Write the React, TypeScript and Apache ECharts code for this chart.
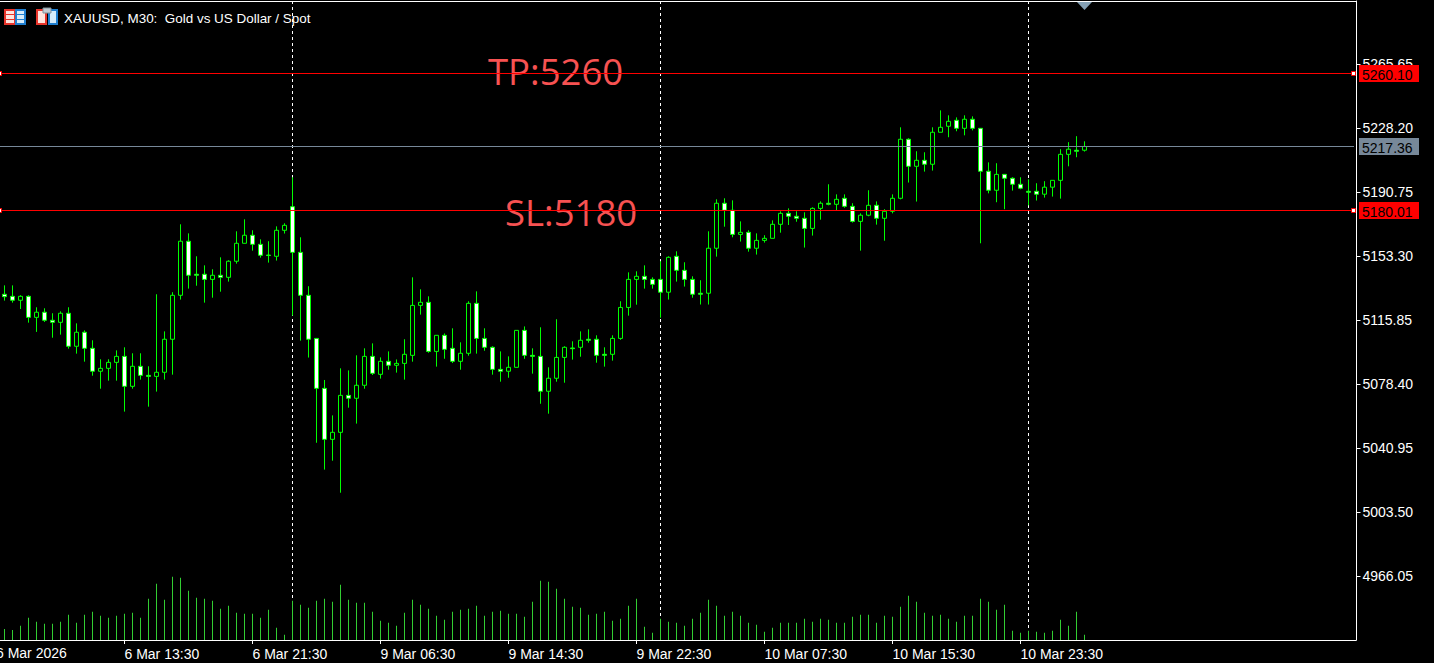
import React, { useEffect, useRef } from "react";
import * as echarts from "echarts";

const title = "XAUUSD, M30:  Gold vs US Dollar / Spot";
const priceTicks = [4966.05, 5003.5, 5040.95, 5078.4, 5115.85, 5153.3, 5190.75, 5228.2, 5265.65];
const dateLabels: Record<number, string> = {
  15: "6 Mar 13:30", 31: "6 Mar 21:30", 47: "9 Mar 06:30", 63: "9 Mar 14:30",
  79: "9 Mar 22:30", 95: "10 Mar 07:30", 111: "10 Mar 15:30", 127: "10 Mar 23:30",
};
const firstDateLabel = "6 Mar 2026";
const separators = [36, 82, 128];
const levelPrices = [5260.1, 5217.36, 5180.01];
const levelTags = ["5260.10", "5217.36", "5180.01"];
const levelColors = ["#ff0000", "#778899", "#ff0000"];
const levelHandles = [true, false, true];

const opens = [
  5131.0, 5129.8, 5127.5, 5129.8, 5117.5, 5120.5, 5115.8, 5114.6, 5119.9, 5100.6,
  5108.8, 5099.4, 5086.0, 5087.7, 5091.2, 5094.7, 5077.2, 5088.9, 5083.6, 5083.0,
  5085.4, 5104.7, 5130.4, 5162.0, 5142.7, 5142.7, 5139.7, 5142.1, 5140.9, 5150.3,
  5160.8, 5165.5, 5160.2, 5153.9, 5153.2, 5168.4, 5182.2, 5155.5, 5130.4, 5105.2,
  5076.0, 5046.2, 5050.3, 5071.9, 5070.2, 5077.8, 5094.7, 5084.2, 5091.8, 5089.5,
  5090.6, 5095.3, 5124.5, 5126.3, 5097.6, 5107.0, 5099.4, 5091.8, 5096.5, 5125.7,
  5105.2, 5100.0, 5087.1, 5086.0, 5088.3, 5109.9, 5095.3, 5094.7, 5074.3, 5081.9,
  5094.1, 5099.6, 5100.0, 5104.7, 5104.7, 5095.9, 5095.9, 5105.2, 5123.3, 5139.7,
  5141.5, 5139.7, 5139.7, 5132.2, 5153.2, 5145.0, 5139.7, 5131.6, 5131.6, 5157.9,
  5184.2, 5180.1, 5166.0, 5167.2, 5157.9, 5162.5, 5163.7, 5171.9, 5178.3, 5176.6,
  5175.4, 5169.5, 5181.2, 5184.2, 5183.6, 5187.1, 5182.4, 5173.6, 5177.2, 5183.0,
  5175.4, 5179.5, 5187.1, 5221.6, 5205.8, 5209.3, 5207.0, 5225.7, 5229.2, 5232.7,
  5228.0, 5233.3, 5228.0, 5202.9, 5191.8, 5201.1, 5198.8, 5195.3, 5191.2, 5191.2,
  5189.5, 5193.6, 5197.6, 5212.8, 5215.2, 5215.2,
];
const closes = [
  5129.6, 5127.5, 5129.8, 5117.5, 5120.5, 5115.8, 5114.6, 5119.9, 5100.6, 5108.8,
  5099.4, 5086.0, 5087.7, 5091.2, 5094.7, 5077.2, 5088.9, 5083.6, 5083.0, 5085.4,
  5104.7, 5130.4, 5162.0, 5142.1, 5142.1, 5139.7, 5142.1, 5140.9, 5150.3, 5160.8,
  5165.5, 5160.2, 5153.8, 5153.7, 5168.4, 5171.3, 5155.5, 5130.4, 5104.7, 5076.0,
  5046.2, 5050.3, 5071.9, 5070.2, 5077.8, 5094.7, 5084.8, 5091.8, 5089.5, 5090.6,
  5095.9, 5124.5, 5126.3, 5097.6, 5107.0, 5098.8, 5091.8, 5096.5, 5125.7, 5105.2,
  5100.0, 5087.1, 5086.0, 5088.3, 5109.9, 5095.3, 5094.7, 5074.3, 5081.9, 5094.1,
  5100.0, 5099.2, 5104.1, 5104.1, 5095.3, 5095.3, 5105.2, 5123.3, 5139.7, 5141.5,
  5139.7, 5136.8, 5132.2, 5152.6, 5145.0, 5139.7, 5131.0, 5131.0, 5157.9, 5184.2,
  5180.1, 5166.0, 5167.2, 5157.9, 5162.5, 5163.7, 5171.9, 5178.3, 5176.6, 5175.4,
  5169.5, 5181.2, 5184.2, 5183.6, 5186.5, 5182.4, 5173.6, 5177.2, 5183.0, 5175.4,
  5179.5, 5187.1, 5221.6, 5205.8, 5209.3, 5207.0, 5225.7, 5228.6, 5232.1, 5228.0,
  5233.3, 5228.0, 5202.9, 5191.8, 5201.1, 5198.8, 5195.3, 5193.0, 5190.6, 5189.5,
  5193.6, 5197.6, 5212.8, 5215.8, 5214.6, 5217.4,
];
const lows = [
  5127.3, 5126.1, 5122.4, 5114.4, 5109.0, 5114.8, 5105.6, 5107.4, 5099.2, 5096.3,
  5091.6, 5083.4, 5075.8, 5080.5, 5080.5, 5062.4, 5075.8, 5081.1, 5065.3, 5074.1,
  5081.1, 5084.0, 5127.9, 5134.3, 5136.0, 5126.1, 5129.0, 5132.5, 5138.4, 5148.9,
  5160.8, 5156.5, 5152.4, 5149.5, 5150.7, 5166.5, 5118.5, 5103.9, 5094.0, 5044.2,
  5028.5, 5033.7, 5015.0, 5064.7, 5055.4, 5075.8, 5083.8, 5081.7, 5086.9, 5085.2,
  5081.1, 5091.6, 5119.1, 5096.8, 5088.7, 5093.3, 5090.8, 5086.9, 5095.1, 5096.3,
  5098.0, 5084.0, 5079.9, 5082.2, 5088.3, 5093.3, 5084.6, 5067.0, 5061.2, 5079.9,
  5079.3, 5092.8, 5094.5, 5102.7, 5091.0, 5088.7, 5092.2, 5104.4, 5118.5, 5124.9,
  5134.3, 5134.3, 5117.3, 5127.9, 5138.4, 5135.5, 5129.0, 5125.0, 5125.0, 5153.0,
  5170.5, 5164.3, 5161.8, 5155.9, 5154.2, 5161.2, 5163.7, 5167.0, 5171.5, 5173.4,
  5158.3, 5165.3, 5174.6, 5183.0, 5180.1, 5181.6, 5172.9, 5156.5, 5176.6, 5171.7,
  5162.3, 5178.3, 5186.5, 5196.3, 5185.2, 5202.7, 5203.3, 5225.7, 5222.8, 5226.3,
  5223.9, 5226.8, 5160.8, 5190.0, 5184.8, 5180.7, 5191.6, 5192.4, 5183.0, 5185.8,
  5187.5, 5188.1, 5186.9, 5205.8, 5211.1, 5214.4,
];
const highs = [
  5136.2, 5136.2, 5130.4, 5130.4, 5123.4, 5122.8, 5119.9, 5121.0, 5123.4, 5114.0,
  5109.9, 5104.1, 5093.0, 5093.0, 5098.2, 5100.0, 5096.5, 5096.5, 5088.9, 5131.0,
  5109.3, 5132.2, 5171.9, 5166.6, 5153.2, 5147.9, 5145.6, 5152.6, 5150.9, 5167.8,
  5174.8, 5168.4, 5163.1, 5162.0, 5170.7, 5172.5, 5199.4, 5164.3, 5135.7, 5105.2,
  5080.9, 5060.2, 5087.7, 5086.5, 5095.3, 5099.4, 5102.3, 5094.1, 5097.6, 5092.9,
  5104.7, 5140.9, 5133.9, 5129.8, 5107.0, 5108.1, 5111.1, 5102.9, 5126.9, 5132.7,
  5111.1, 5100.6, 5097.6, 5094.7, 5109.9, 5112.2, 5099.4, 5111.7, 5088.3, 5116.4,
  5100.6, 5103.5, 5109.3, 5110.5, 5107.0, 5100.0, 5107.0, 5126.9, 5143.8, 5144.4,
  5147.9, 5140.9, 5150.3, 5153.2, 5156.1, 5149.7, 5141.5, 5139.2, 5167.8, 5186.5,
  5187.1, 5185.9, 5173.6, 5168.4, 5166.6, 5165.5, 5174.2, 5179.5, 5181.2, 5179.5,
  5178.9, 5181.8, 5185.3, 5195.3, 5189.4, 5189.4, 5184.2, 5178.3, 5191.8, 5185.3,
  5180.7, 5189.4, 5228.6, 5222.2, 5214.6, 5214.0, 5228.6, 5238.5, 5235.6, 5234.4,
  5235.6, 5235.0, 5228.0, 5208.1, 5207.6, 5201.1, 5199.4, 5199.4, 5198.2, 5195.9,
  5197.1, 5197.6, 5215.8, 5219.9, 5223.4, 5220.4,
];
const volumes = [
  1100, 1000, 1430, 2230, 1830, 1630, 1630, 1830, 2530, 1730,
  2530, 2830, 2430, 2230, 2430, 2630, 2730, 2230, 4130, 5630,
  4030, 6330, 6230, 4930, 4230, 4130, 3930, 3130, 3430, 2730,
  2630, 2630, 2230, 3030, 1230, 530, 3930, 3530, 3230, 3930,
  4130, 3830, 5530, 4030, 3730, 3730, 2830, 1930, 1730, 1430,
  2730, 4030, 3530, 3130, 2430, 2030, 2830, 3030, 3130, 3430,
  2430, 2830, 2930, 2630, 2630, 2330, 3830, 5930, 5830, 5130,
  4130, 3330, 3230, 2530, 2630, 2830, 1930, 2130, 3430, 4130,
  1330, 730, 2130, 1830, 1730, 1430, 2130, 2730, 4030, 3430,
  2430, 2830, 2430, 1730, 1530, 830, 1230, 1730, 1730, 1730,
  2130, 1830, 2130, 2030, 1730, 1730, 2330, 2530, 2530, 1730,
  2430, 2330, 3330, 4430, 3830, 2730, 2430, 2530, 2130, 1830,
  2430, 2430, 4130, 3830, 3030, 3530, 930, 730, 930, 830,
  730, 930, 2030, 1430, 2830, 530,
];

const SLOTS = 170;
const FRAME_RIGHT = 1356;
const UI_FONT = "Liberation Sans";

export default function App() {
  const ref = useRef<HTMLDivElement>(null);
  useEffect(() => {
    const chart = echarts.init(ref.current!, undefined, { renderer: "svg" });
    const categories = Array.from({ length: SLOTS }, (_, i) => dateLabels[i] ?? "");
    const candles = opens.map((o, i) => [o, closes[i], lows[i], highs[i]]);
    const isDated = (i: number) => dateLabels[i] !== undefined;
    const white = "#ffffff";
    const red = "#e8352b";
    const blue = "#1f7fd0";

    const icons: any[] = [
      { type: "rect", shape: { x: 5, y: 10, width: 10, height: 14 }, style: { fill: "#ffe4de", stroke: red, lineWidth: 2 } },
      { type: "rect", shape: { x: 16, y: 10, width: 9, height: 14 }, style: { fill: "#d6ecfa", stroke: blue, lineWidth: 2 } },
      { type: "rect", shape: { x: 5, y: 14, width: 10, height: 1 }, style: { fill: red } },
      { type: "rect", shape: { x: 5, y: 19, width: 10, height: 1 }, style: { fill: red } },
      { type: "rect", shape: { x: 16, y: 14, width: 9, height: 1 }, style: { fill: blue } },
      { type: "rect", shape: { x: 16, y: 19, width: 9, height: 1 }, style: { fill: blue } },
      { type: "rect", shape: { x: 37, y: 10, width: 9, height: 14 }, style: { fill: "#ffe4de", stroke: red, lineWidth: 2 } },
      { type: "rect", shape: { x: 49, y: 10, width: 8, height: 14 }, style: { fill: "#d6ecfa", stroke: blue, lineWidth: 2 } },
      { type: "rect", shape: { x: 43, y: 8, width: 8, height: 5 }, style: { fill: "#c3ccd3", stroke: "#7f8f99", lineWidth: 1 } },
    ];

    chart.setOption({
      animation: false,
      backgroundColor: "#000000",
      grid: { left: 0.5, top: 1, width: FRAME_RIGHT + 4, height: 639, containLabel: false },
      xAxis: {
        type: "category",
        data: categories,
        boundaryGap: true,
        axisLine: { show: false },
        axisTick: { show: true, alignWithLabel: true, interval: (i: number) => isDated(i), length: 4, lineStyle: { color: white } },
        axisLabel: { show: true, interval: (i: number) => isDated(i), align: "left", color: white, fontFamily: UI_FONT, fontSize: 14, margin: 7, hideOverlap: false },
        splitLine: { show: false },
      },
      yAxis: [
        {
          type: "value",
          position: "right",
          offset: -4,
          min: 4928.9,
          max: 5302.43,
          axisLine: { show: true, lineStyle: { color: white } },
          axisTick: { show: true, length: 4, lineStyle: { color: white }, customValues: priceTicks },
          axisLabel: { show: true, color: white, fontFamily: UI_FONT, fontSize: 14, margin: 6, padding: [2, 0, 0, 0], customValues: priceTicks, formatter: (v: number) => v.toFixed(2) },
          splitLine: { show: false },
        },
        { type: "value", show: false, min: 0, max: 63900, splitLine: { show: false } },
      ],
      series: [
        {
          type: "custom",
          name: "separators",
          z: 1,
          silent: true,
          data: separators.map((s) => [s, 5000]),
          encode: { x: 0, y: 1 },
          renderItem: (_p: any, api: any) => {
            const x = Math.floor(api.coord([api.value(0), api.value(1)])[0]) + 0.5;
            return {
              type: "line",
              shape: { x1: x, y1: 1, x2: x, y2: 640 },
              style: { stroke: white, lineWidth: 1, lineDash: [3, 3] },
            };
          },
        },
        {
          type: "bar",
          name: "Volume",
          yAxisIndex: 1,
          z: 3,
          barWidth: 1,
          silent: true,
          itemStyle: { color: "#32cd32" },
          data: volumes,
        },
        {
          type: "candlestick",
          name: "XAUUSD",
          z: 3,
          barWidth: 5,
          silent: true,
          itemStyle: {
            color: "#000000",
            color0: "#ffffff",
            borderColor: "#00ff00",
            borderColor0: "#00ff00",
            borderColorDoji: "#00ff00",
            borderWidth: 1,
          },
          data: candles,
        },
        {
          type: "custom",
          name: "levels",
          z: 5,
          silent: true,
          clip: false,
          data: levelPrices.map((p, i) => [i, p]),
          encode: { x: 0, y: 1 },
          renderItem: (p: any, api: any) => {
            const i = p.dataIndex;
            const y = Math.floor(api.coord([0, api.value(1)])[1]) + 0.5;
            const color = levelColors[i];
            const children: any[] = [
              { type: "line", shape: { x1: 0, y1: y, x2: FRAME_RIGHT - 2, y2: y }, style: { stroke: color, lineWidth: 1 } },
              { type: "rect", shape: { x: FRAME_RIGHT + 3, y: y - 8.5, width: 60, height: 17 }, style: { fill: color } },
              {
                type: "text",
                style: { text: levelTags[i], x: FRAME_RIGHT + 6, y: y + 1, fill: "#000000", font: `14px "${UI_FONT}"`, verticalAlign: "middle", align: "left" },
              },
            ];
            if (levelHandles[i]) {
              children.push(
                { type: "rect", shape: { x: -2.5, y: y - 2, width: 4, height: 4 }, style: { fill: white, stroke: color, lineWidth: 1 } },
                { type: "rect", shape: { x: FRAME_RIGHT - 4.5, y: y - 2, width: 4, height: 4 }, style: { fill: white, stroke: color, lineWidth: 1 } }
              );
            }
            return { type: "group", children };
          },
        },
      ],
      graphic: [
        { type: "line", z: 4, shape: { x1: 0, y1: 1.5, x2: FRAME_RIGHT + 0.5, y2: 1.5 }, style: { stroke: white, lineWidth: 1 } },
        { type: "line", z: 4, shape: { x1: 0, y1: 640.5, x2: FRAME_RIGHT + 0.5, y2: 640.5 }, style: { stroke: white, lineWidth: 1 } },
        ...icons,
        { type: "text", x: 64, y: 18, style: { text: title, fill: white, font: `13.45px "${UI_FONT}"`, verticalAlign: "middle" } },
        { type: "text", x: -4, y: 652.5, style: { text: firstDateLabel, fill: white, font: `14px "${UI_FONT}"`, verticalAlign: "middle" } },
        { type: "text", z: 1, x: 488, y: 71, style: { text: "TP:5260", fill: "#f75252", font: `36.5px "Open Sans"`, verticalAlign: "middle" } },
        { type: "text", z: 1, x: 505, y: 212, style: { text: "SL:5180", fill: "#f75252", font: `36.5px "Open Sans"`, verticalAlign: "middle" } },
        { type: "polygon", z: 6, shape: { points: [[1077, 2], [1092, 2], [1084.5, 10]] }, style: { fill: "#84a0b4" } },
      ],
    });
    return () => chart.dispose();
  }, []);
  return <div ref={ref} style={{ position: "fixed", left: 0, top: 0, width: 1434, height: 663 }} />;
}
